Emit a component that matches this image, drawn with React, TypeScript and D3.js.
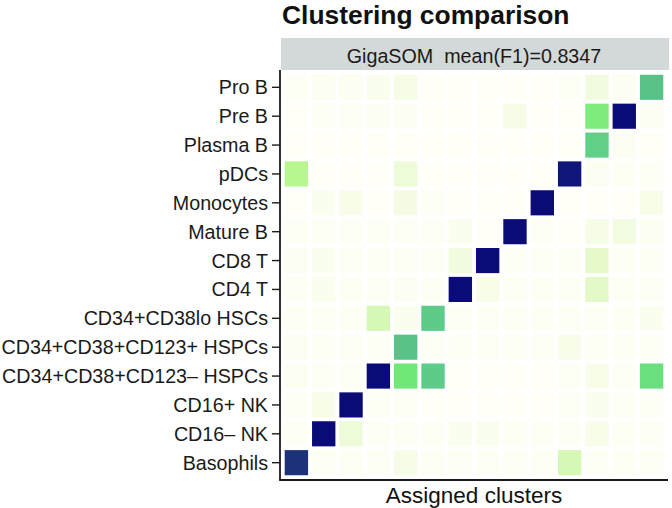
import React from 'react';
import * as d3 from 'd3';

const rowLabels = [
  'Pro B',
  'Pre B',
  'Plasma B',
  'pDCs',
  'Monocytes',
  'Mature B',
  'CD8 T',
  'CD4 T',
  'CD34+CD38lo HSCs',
  'CD34+CD38+CD123+ HSPCs',
  'CD34+CD38+CD123– HSPCs',
  'CD16+ NK',
  'CD16– NK',
  'Basophils',
];

const clusters = ['1','2','3','4','5','6','7','8','9','10','11','12','13','14'];

const f1Rows: number[][] = [
  [0.01,0.02,0.02,0.03,0.05,0,0,0,0,0,0.01,0.08,0.02,0.62],
  [0,0.01,0.01,0.02,0.02,0,0,0,0.05,0,0,0.42,1,0.02],
  [0,0,0,0,0,0,0,0,0,0,0,0.58,0.02,0],
  [0.3,0,0,0,0.1,0,0,0,0,0,0.98,0.02,0.01,0.01],
  [0,0.03,0.04,0,0.06,0.01,0,0,0,1,0,0,0,0.04],
  [0.01,0.01,0.01,0.01,0.01,0.01,0.03,0,1,0.01,0,0.05,0.07,0.02],
  [0.02,0.03,0.01,0.01,0.01,0.01,0.08,1,0.01,0.01,0.01,0.14,0.01,0.01],
  [0.01,0.03,0.01,0.01,0.02,0.01,1,0.04,0.01,0.01,0.01,0.15,0.01,0.01],
  [0.01,0.01,0.01,0.2,0.03,0.6,0.01,0.01,0.01,0.01,0.01,0.01,0.01,0.03],
  [0.02,0.01,0.01,0.01,0.62,0.01,0.01,0.01,0.01,0.01,0.04,0.01,0.01,0.01],
  [0.02,0.01,0.01,1,0.45,0.6,0,0,0,0,0.01,0.04,0.01,0.5],
  [0.01,0.04,1,0.01,0.01,0,0,0,0,0,0.01,0.03,0.01,0.01],
  [0.01,1,0.1,0.01,0.01,0.01,0.03,0.03,0.01,0.01,0.01,0.04,0.01,0.01],
  [0.92,0.01,0.01,0.01,0.05,0.01,0.01,0.01,0.01,0.01,0.2,0.01,0.01,0.01],
];

const colorStops = [0, 0.15, 0.3, 0.45, 0.6, 1];
const colorRange = ['#FFFFF7', '#E4F9C8', '#B8F690', '#70E878', '#5CCC88', '#0B0B78'];

const title = 'Clustering comparison';
const stripLabel = 'GigaSOM  mean(F1)=0.8347';
const xTitle = 'Assigned clusters';

export default function App() {
  const W = 672, H = 508;
  const left = 280, right = 668, top = 70, bottom = 480;
  const x = d3.scalePoint<string>().domain(clusters).range([left, right]).padding(0.6);
  const y = d3.scalePoint<string>().domain(rowLabels).range([top, bottom]).padding(0.6);
  const color = d3.scaleLinear<string>().domain(colorStops).range(colorRange).interpolate(d3.interpolateRgb).clamp(true);
  const cw = x.step() * 0.855;
  const ch = y.step() * 0.87;
  const font = '"Liberation Sans", Arial, Helvetica, sans-serif';

  const cells: { r: string; c: string; v: number }[] = [];
  rowLabels.forEach((r, i) => clusters.forEach((c, j) => cells.push({ r, c, v: f1Rows[i][j] })));

  return (
    <svg width={W} height={H} style={{ position: 'absolute', left: 0, top: 0, background: '#fff' }} fontFamily={font}>
      <rect x={0} y={0} width={W} height={H} fill="#fff" />
      <text x={282} y={24} fontSize={26.4} fontWeight="bold" fill="#111">{title}</text>
      <rect x={left + 1} y={38} width={right - left} height={top - 38} fill="#D3D8D8" />
      <text x={(left + right) / 2} y={63} fontSize={19.7} textAnchor="middle" fill="#1a1a1a" style={{ whiteSpace: 'pre' }}>{stripLabel}</text>
      {cells.map((d, i) => (
        <rect key={i} x={(x(d.c) as number) - cw / 2} y={(y(d.r) as number) - ch / 2} width={cw} height={ch} fill={color(d.v)} />
      ))}
      <line x1={left} x2={left} y1={top} y2={bottom} stroke="#1a1a1a" strokeWidth={1.8} />
      <line x1={left - 0.9} x2={right} y1={bottom} y2={bottom} stroke="#1a1a1a" strokeWidth={1.8} />
      {rowLabels.map((r) => (
        <g key={r}>
          <line x1={left - 8} x2={left} y1={y(r)} y2={y(r)} stroke="#1a1a1a" strokeWidth={1.4} />
          <text x={left - 12} y={(y(r) as number) + 7} fontSize={19.7} textAnchor="end" fill="#1a1a1a">{r}</text>
        </g>
      ))}
      <text x={(left + right) / 2} y={503} fontSize={22.5} textAnchor="middle" fill="#111">{xTitle}</text>
    </svg>
  );
}
